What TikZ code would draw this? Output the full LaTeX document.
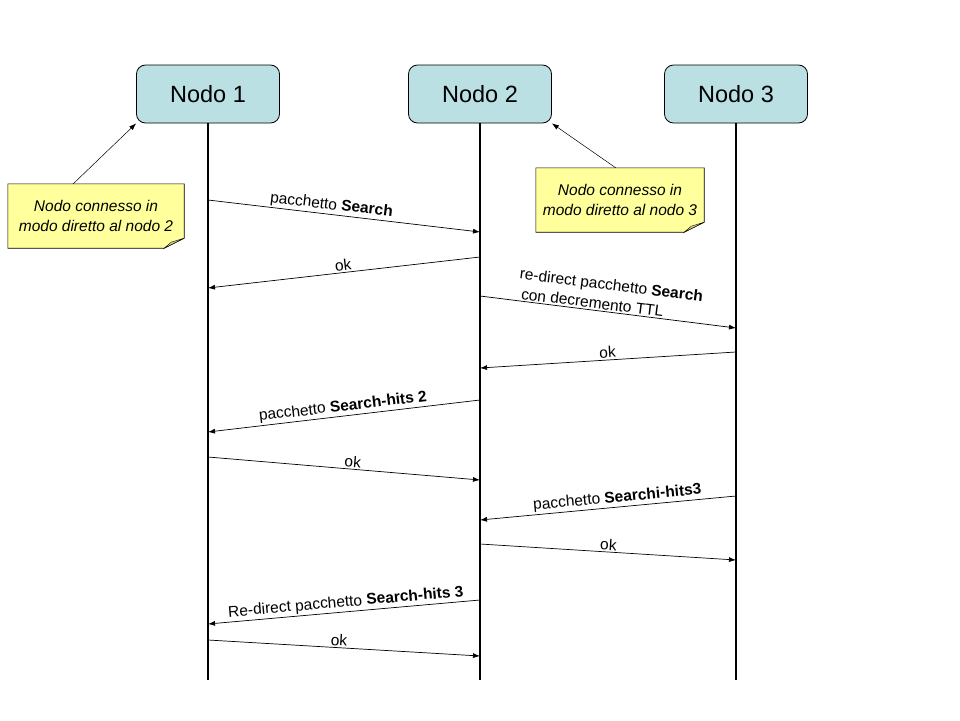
\documentclass[tikz,border=0pt]{standalone}
\usepackage{fontspec}
\setmainfont{Liberation Sans}
\usetikzlibrary{arrows.meta,calc,backgrounds}
\definecolor{nodeblue}{HTML}{BBE0E3}
\definecolor{noteyellow}{HTML}{FFFF9C}
\definecolor{notefold}{HTML}{D9D98A}
\begin{document}
\begin{tikzpicture}[x=1pt,y=-1pt,
  actor/.style={draw=black, line width=0.8pt, rounded corners=9pt, fill=nodeblue,
    minimum width=143pt, minimum height=58pt, font=\fontsize{23.5}{28}\selectfont},
  lifeline/.style={line width=2.8pt},
  msg/.style={line width=0.7pt, -{Latex[length=7pt,width=5pt]}},
  lbl/.style={sloped, above, inner sep=1.5pt, font=\fontsize{15.5}{18}\selectfont},
  notetext/.style={font=\itshape\fontsize{15.5}{20}\selectfont, align=center, inner sep=0pt},
  noteshape/.style={fill=noteyellow, draw=black, line width=0.6pt},
]
\useasboundingbox (0,0) rectangle (960,720);

% actors
\node[actor] (n1) at (208,94) {Nodo 1};
\node[actor] (n2) at (480,94) {Nodo 2};
\node[actor] (n3) at (736,94) {Nodo 3};

\coordinate (e1) at (208,680);
\coordinate (e2) at (480,680);
\coordinate (e3) at (736,680);
\draw[lifeline] (n1.south) -- (e1);
\draw[lifeline] (n2.south) -- (e2);
\draw[lifeline] (n3.south) -- (e3);

% notes
\node[notetext, minimum width=176pt, minimum height=64pt] (t1) at (96,216) {Nodo connesso in\\modo diretto al nodo 2};
\node[notetext, minimum width=168pt, minimum height=64pt] (t2) at (620,200) {Nodo connesso in\\modo diretto al nodo 3};
\begin{scope}[on background layer]
  \fill[white] (0,0) rectangle (960,720);
  \foreach \t in {t1,t2}{
    \path[noteshape] (\t.north west) -- (\t.north east) -- ($(\t.south east)+(0,-10)$)
      -- ($(\t.south east)+(-20,0)$) -- (\t.south west) -- cycle;
    \path[fill=notefold, draw=black, line width=0.4pt] ($(\t.south east)+(0,-10)$)
      -- ($(\t.south east)+(-20,0)$) -- ($(\t.south east)+(-13,-6)$) -- cycle;
  }
\end{scope}
\coordinate (c1) at (73,184);
\coordinate (c2) at (616,168);
\draw[msg, line width=0.5pt] (c1) -- (n1.south west);
\draw[msg, line width=0.5pt] (c2) -- (n2.south east);

% message end points
\coordinate (a1) at (208,200); \coordinate (b1) at (480,232);
\coordinate (a2) at (480,257); \coordinate (b2) at (208,288);
\coordinate (a3) at (480,296); \coordinate (b3) at (736,328);
\coordinate (a4) at (736,352); \coordinate (b4) at (480,368);
\coordinate (a5) at (480,400); \coordinate (b5) at (208,432);
\coordinate (a6) at (208,457); \coordinate (b6) at (480,480);
\coordinate (a7) at (736,496); \coordinate (b7) at (480,520);
\coordinate (a8) at (480,544); \coordinate (b8) at (736,560);
\coordinate (a9) at (480,600); \coordinate (b9) at (208,624);
\coordinate (a10) at (208,640); \coordinate (b10) at (480,656);

\draw[msg] (a1) -- node[lbl, pos=0.45] {pacchetto \textbf{Search}} (b1);
\draw[msg] (a2) -- node[lbl] {ok} (b2);
\draw[msg] (a3) -- node[lbl, align=left, pos=0.5, font=\fontsize{15.5}{20}\selectfont] {re-direct pacchetto \textbf{Search}\\\hspace*{4pt}con decremento TTL} (b3);
\draw[msg] (a4) -- node[lbl] {ok} (b4);
\draw[msg] (a5) -- node[lbl] {pacchetto \textbf{Search-hits 2}} (b5);
\draw[msg] (a6) -- node[lbl, pos=0.53] {ok} (b6);
\draw[msg] (a7) -- node[lbl, pos=0.46] {pacchetto \textbf{Searchi-hits3}} (b7);
\draw[msg] (a8) -- node[lbl] {ok} (b8);
\draw[msg] (a9) -- node[lbl, pos=0.49] {Re-direct pacchetto \textbf{Search-hits 3}} (b9);
\draw[msg] (a10) -- node[lbl, pos=0.48] {ok} (b10);
\end{tikzpicture}
\end{document}
